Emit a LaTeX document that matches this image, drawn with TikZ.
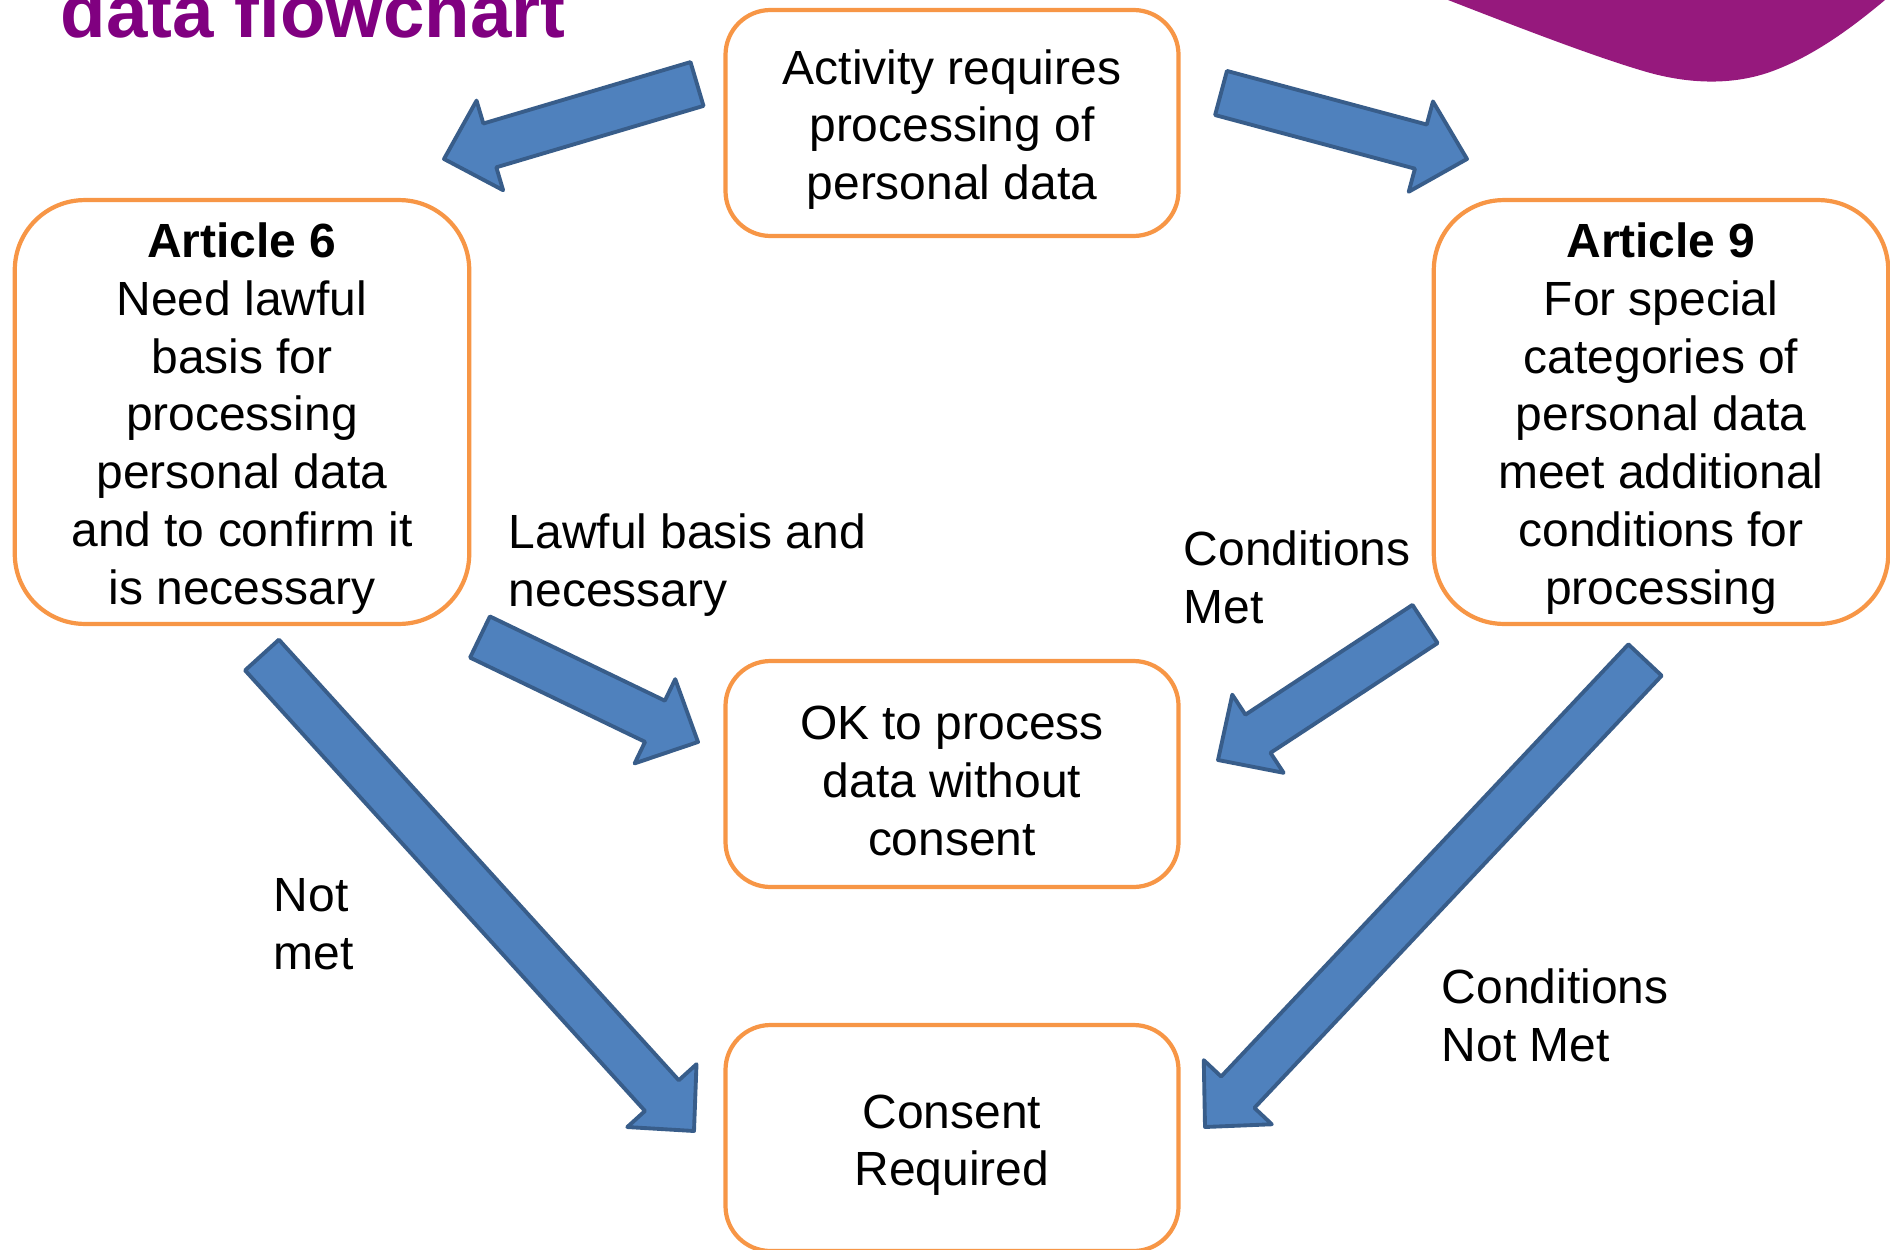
\documentclass[tikz,border=0pt]{standalone}
\usepackage{fontspec}
\setmainfont{Liberation Sans}
\usetikzlibrary{calc}
\definecolor{boxorange}{RGB}{247,150,70}
\definecolor{arrowfill}{RGB}{79,129,189}
\definecolor{arrowline}{RGB}{56,93,138}
\definecolor{titlepurple}{RGB}{128,0,128}
\definecolor{blobpurple}{RGB}{150,25,125}
\tikzset{
  box/.style={draw=boxorange, line width=1.2pt, fill=white, rounded corners=12.8pt,
    align=center, minimum width=128.9pt, minimum height=64.3pt, inner sep=0pt,
    font=\fontsize{13.65pt}{16.45pt}\selectfont},
  bigbox/.style={box, rounded corners=19.9pt, minimum width=129.3pt, minimum height=120.6pt},
  lbl/.style={align=left, anchor=west, inner sep=0pt, font=\fontsize{13.65pt}{16.45pt}\selectfont},
  blockarrow/.style={draw=arrowline, fill=arrowfill, line width=1.1pt, line join=round}
}
\newcommand\topgap{\rule{0pt}{13.6pt}}
\def\sw{6.5pt}
\def\hw{13.3pt}
\def\hl{13.6pt}
\newcommand\barrow[2]{%
  \coordinate (h) at ($(#2)!\hl!(#1)$);
  \draw[blockarrow] ($(#1)!\sw!90:(#2)$) -- ($(h)!\sw!-90:(#1)$) -- ($(h)!\hw!-90:(#1)$)
    -- (#2) -- ($(h)!\hw!90:(#1)$) -- ($(h)!\sw!90:(#1)$) -- ($(#1)!\sw!-90:(#2)$) -- cycle;
}
\begin{document}
\begin{tikzpicture}[x=0.28453pt,y=-0.28453pt]
\useasboundingbox (0,0) rectangle (1890,1249);
\begin{scope}
\clip (0,0) rectangle (1890,1249);
% purple decoration
\fill[blobpurple] (1448,-10) -- (1448,0) .. controls (1520,28) and (1590,55) .. (1640,70)
  .. controls (1685,84) and (1730,86) .. (1770,72)
  .. controls (1815,56) and (1855,25) .. (1885,0) -- (1885,-10) -- cycle;
% title
\node[anchor=base west, inner sep=0pt, text=titlepurple, font=\fontsize{21.2pt}{25pt}\selectfont\bfseries]
  (title) at (60,38) {data flowchart};
% boxes
\node[box] (act) at (952,123) {\topgap Activity requires\\processing of\\personal data};
\node[bigbox] (art6) at (242,412) {\topgap\textbf{Article 6}\\Need lawful\\basis for\\processing\\personal data\\and to confirm it\\is necessary};
\node[bigbox] (art9) at (1661,412) {\topgap\textbf{Article 9}\\For special\\categories of\\personal data\\meet additional\\conditions for\\processing};
\node[box] (ok) at (952,774) {\topgap OK to process\\data without\\consent};
\node[box] (cons) at (952,1138) {\topgap Consent\\Required};
% labels
\node[lbl] (l1) at (508,565) {Lawful basis and\\necessary};
\node[lbl] (l2) at (1183,577) {Conditions\\Met};
\node[lbl] (l3) at (273,924) {Not\\met};
\node[lbl] (l4) at (1441,1015) {Conditions\\Not Met};
% arrow end points
\coordinate (a1s) at (697,84);   \coordinate (a1e) at (444,159);
\coordinate (a2s) at (1221,93);  \coordinate (a2e) at (1467,159);
\coordinate (a3s) at (480,637);  \coordinate (a3e) at (698,742);
\coordinate (a4s) at (1425,624); \coordinate (a4e) at (1218,760);
\coordinate (a5s) at (262,655);  \coordinate (a5e) at (694,1131);
\coordinate (a6s) at (1645,660); \coordinate (a6e) at (1205,1127);
\barrow{a1s}{a1e}
\barrow{a2s}{a2e}
\barrow{a3s}{a3e}
\barrow{a4s}{a4e}
\barrow{a5s}{a5e}
\barrow{a6s}{a6e}
\end{scope}
\end{tikzpicture}
\end{document}
